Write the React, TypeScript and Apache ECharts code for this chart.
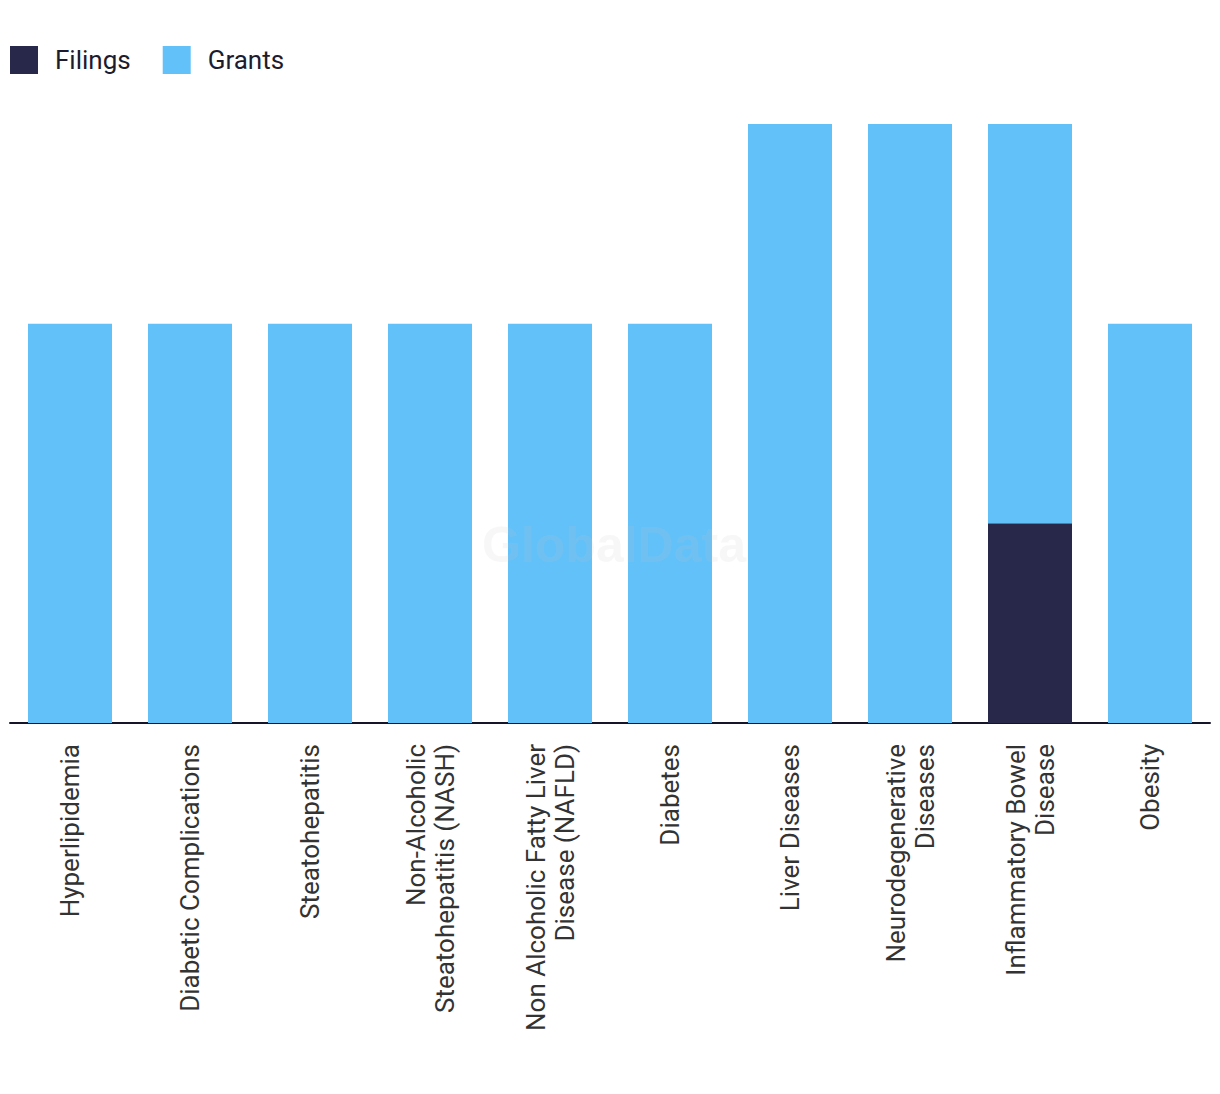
import React, { useEffect, useRef } from "react";
import * as echarts from "echarts";

const categories = [
  "Hyperlipidemia",
  "Diabetic Complications",
  "Steatohepatitis",
  "Non-Alcoholic\nSteatohepatitis (NASH)",
  "Non Alcoholic Fatty Liver\nDisease (NAFLD)",
  "Diabetes",
  "Liver Diseases",
  "Neurodegenerative\nDiseases",
  "Inflammatory Bowel\nDisease",
  "Obesity",
];
const filings = [0, 0, 0, 0, 0, 0, 0, 0, 1, 0];
const grants = [2, 2, 2, 2, 2, 2, 3, 3, 2, 2];

export default function App() {
  const ref = useRef<HTMLDivElement>(null);
  useEffect(() => {
    const chart = echarts.init(ref.current!, null, { renderer: "svg" });
    chart.setOption({
      animation: false,
      legend: {
        left: 2,
        top: 38,
        padding: 0,
        itemWidth: 28,
        itemHeight: 28,
        itemGap: 32,
        icon: "rect",
        textStyle: { fontFamily: "Roboto", fontSize: 26, color: "#1c1c2e", padding: [0, 0, 0, 12] },
        data: ["Filings", "Grants"],
      },
      graphic: [
        {
          type: "text",
          left: "center",
          top: 512,
          z: 100,
          style: {
            text: "GlobalData",
            fontFamily: "Liberation Sans",
            fontWeight: "bold",
            fontSize: 50,
            fill: "rgba(200,200,200,0.14)",
          },
        },
      ],
      grid: { left: 2, right: 10, top: 116, bottom: 363 },
      xAxis: {
        type: "category",
        data: categories,
        axisLine: { lineStyle: { color: "#15152a", width: 2 } },
        axisTick: { show: false },
        axisLabel: {
          rotate: 90,
          interval: 0,
          margin: 21,
          fontFamily: "Roboto",
          fontSize: 26,
          lineHeight: 29,
          color: "#333333",
          align: "right",
        },
      },
      yAxis: { type: "value", min: 0, max: 3, show: false, splitLine: { show: false } },
      series: [
        {
          name: "Filings",
          type: "bar",
          stack: "a",
          barWidth: "70%",
          data: filings,
          itemStyle: { color: "#27284a" },
        },
        {
          name: "Grants",
          type: "bar",
          stack: "a",
          barWidth: "70%",
          data: grants,
          itemStyle: { color: "#62c1f9" },
        },
      ],
    });
    return () => chart.dispose();
  }, []);
  return <div ref={ref} style={{ width: 1212, height: 1078 }} />;
}
